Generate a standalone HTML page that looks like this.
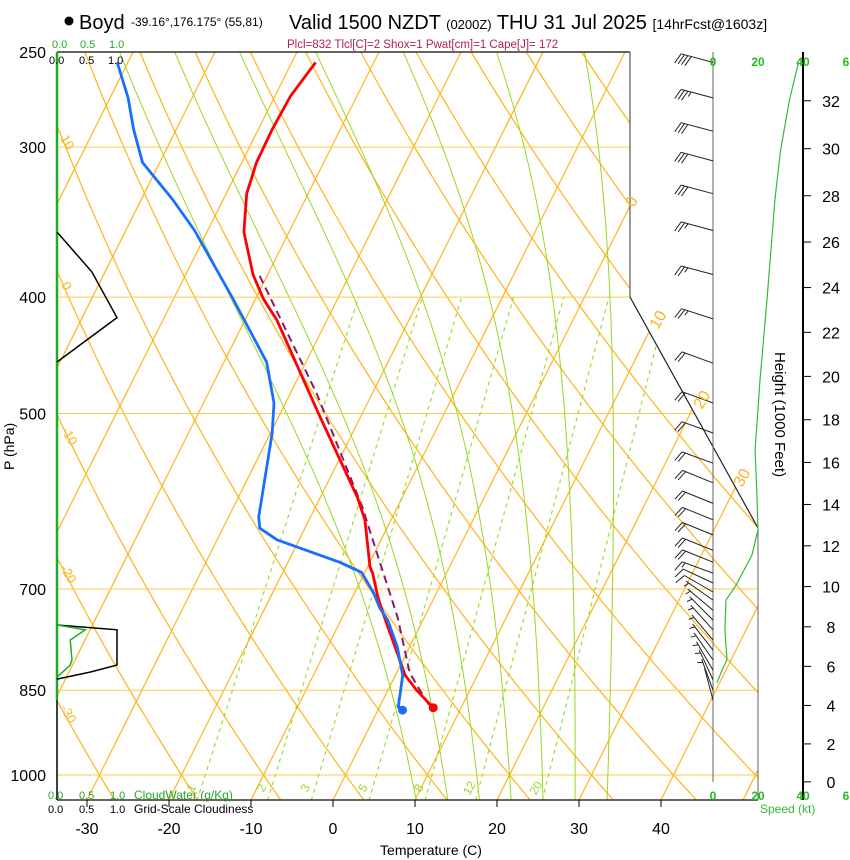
<!DOCTYPE html>
<html><head><meta charset="utf-8"><style>
body{margin:0;background:#fff;}
svg{display:block;font-family:"Liberation Sans",Arial,sans-serif;}
</style></head><body>
<svg id="chart" width="850" height="860" viewBox="0 0 850 860" xmlns="http://www.w3.org/2000/svg">
<defs><clipPath id="plotclip"><polygon points="57,52 630,52 630,297 758,528 758,800 57,800"/></clipPath></defs>
<rect width="850" height="860" fill="#fff"/>
<g>
<circle cx="69" cy="21" r="4.5" fill="#000"/>
<text x="79" y="29" font-size="20">Boyd</text>
<text x="131" y="26" font-size="12">-39.16°,176.175° (55,81)</text>
<text x="289" y="29" font-size="20">Valid 1500 NZDT <tspan font-size="13">(0200Z)</tspan> THU 31 Jul 2025 <tspan font-size="14">[14hrFcst@1603z]</tspan></text>
<text x="287" y="48" font-size="11.5" fill="#b0205a">Plcl=832 Tlcl[C]=2 Shox=1 Pwat[cm]=1 Cape[J]= 172</text>
</g>
<g id="grid" clip-path="url(#plotclip)"></g>
<g id="frame"></g>
<g id="series"></g>
<g id="labels"></g>
<g font-size="11">
<text x="52" y="48" fill="#22aa22">0.0</text><text x="80" y="48" fill="#22aa22">0.5</text><text x="109" y="48" fill="#22aa22">1.0</text>
<text x="49" y="64" fill="#000">0.0</text><text x="79" y="64" fill="#000">0.5</text><text x="108" y="64" fill="#000">1.0</text>
<text x="48" y="799" fill="#22aa22">0.0</text><text x="79" y="799" fill="#22aa22">0.5</text><text x="110" y="799" fill="#22aa22">1.0</text><text x="134" y="799" fill="#22aa22" font-size="12">CloudWater (g/Kg)</text>
<text x="48" y="813" fill="#000">0.0</text><text x="79" y="813" fill="#000">0.5</text><text x="110" y="813" fill="#000">1.0</text><text x="134" y="813" fill="#000" font-size="12">Grid-Scale Cloudiness</text>
<g font-weight="bold" fill="#22bb22" font-size="12" text-anchor="middle">
<text x="713" y="66">0</text><text x="758" y="66">20</text><text x="803" y="66">40</text><text x="846" y="66">6</text>
<text x="713" y="800">0</text><text x="758" y="800">20</text><text x="803" y="800">40</text><text x="846" y="800">6</text>
</g>
<text x="760" y="813" fill="#33bb33" font-size="12">Speed (kt)</text>
<text x="0" y="0" font-size="15" transform="translate(775,352) rotate(90)">Height (1000 Feet)</text>
<text x="0" y="0" font-size="14" transform="translate(14,470) rotate(-90)">P (hPa)</text>
<text x="431" y="855" font-size="14" text-anchor="middle">Temperature (C)</text>
<g fill="#ffb31a" font-size="16">
<text transform="translate(634,208) rotate(-60)">0</text>
<text transform="translate(658,330) rotate(-60)">10</text>
<text transform="translate(702,410) rotate(-60)">20</text>
<text transform="translate(742,488) rotate(-60)">30</text>
</g>
<g fill="#ffb31a" font-size="13">
<text transform="translate(60,138) rotate(60)">10</text>
<text transform="translate(61,285) rotate(60)">0</text>
<text transform="translate(61,430) rotate(60)">-10</text>
<text transform="translate(60,568) rotate(60)">-20</text>
<text transform="translate(60,708) rotate(60)">-30</text>
</g>
</g>
</svg>
<script>
const presT=[255,272,290,309,328,353,383,401,418,497,587,613,671,679,711,740,826,850,879];
const tempT=[-47.1,-48.1,-48.3,-48.2,-47.5,-45.5,-41.8,-39.1,-36.1,-25.7,-15.5,-13.2,-9.7,-9.0,-6.9,-4.8,1.2,3.5,6.6];
const presD=[255,273,290,309,332,352,401,453,490,519,610,623,637,665,678,705,726,743,782,826,878,883];
const dewD=[-71.3,-67.8,-65.2,-62.1,-56.1,-51.6,-42.8,-34.8,-31.4,-29.8,-26.3,-25.5,-22.7,-13.7,-10.4,-7.7,-6.0,-4.3,-1.5,0.9,2.3,3.0];
const presParcel=[384,481,598,666,740,822,850,878];
const tempParcel=[-40.9,-26.8,-14.3,-8.7,-3.2,1.6,3.9,6.2];
const windP=[255,273,291,308,328,352,383,417,454,490,519,550,571,594,613,631,650,665,679,692,704,715,729,743,757,772,787,802,818,833,850,866];
const windSpd=[38,35,32,30,28,26,25,24,22,21,19,19,19,20,20,20,19,18,16,12,9,7,6,5,5,6,6,6,5,4,3,2];
const windDir=[285,285,285,285,285,285,285,288,290,290,290,290,292,292,292,292,292,292,290,295,300,305,310,315,318,320,322,325,330,335,340,345];
const speedP=[255,274,302,332,365,402,469,536,590,625,656,695,715,757,802,818,838];
const speedV=[38,34,30,27.5,25.8,24,20.9,18.7,19.6,20,17.3,10.2,5.8,5.3,6.2,4,1.8];
const cloudP=[353,381,416,453,750,757,810,821,832];
const cloudFrac=[0,0.58,1,0,0,1,1,0.55,0];
const cwP=[750,757,772,802,810,829];
const cwVal=[0,0.47,0.22,0.25,0.22,0];
const tempTicks=[-30,-20,-10,0,10,20,30,40];
const presTicks=[250,300,400,500,700,850,1000];
const heightTicks=[0,2,4,6,8,10,12,14,16,18,20,22,24,26,28,30,32];
const mixRatios=[1,2,3,5,8,12,20];
const thetaW=[8,12,16,20,24,28,32];

const NS="http://www.w3.org/2000/svg";
function yOf(p){return 775+521.5*Math.log(p/1000);}
function xOf(T,p){return 333+8.2*T+0.5*(800-yOf(p));}
function xSpd(s){return 713+s*45/20;}
function xCloud(f){return 57+f*60;}
function yHt(kft){const h=kft*1000*0.3048;const p=1013.25*Math.pow(1-2.25577e-5*h,5.25588);return yOf(p);}
function mk(parent,tag,attrs){const e=document.createElementNS(NS,tag);for(const k in attrs)e.setAttribute(k,attrs[k]);document.getElementById(parent).appendChild(e);return e;}
function pts(a){return a.map(q=>q[0].toFixed(1)+","+q[1].toFixed(1)).join(" ");}

for(let T=-110;T<=50;T+=10){
  const e=mk("grid","line",{x1:xOf(T,1050),y1:yOf(1050),x2:xOf(T,240),y2:yOf(240),stroke:"#ffb31a","stroke-width":1.2});
  
  
}
for(let th=-40;th<=200;th+=10){
  const a=[];
  for(let p=1050;p>=240;p-=10){const T=(th+273.15)*Math.pow(p/1000,0.2857)-273.15;a.push([xOf(T,p),yOf(p)]);}
  const e=mk("grid","polyline",{points:pts(a),fill:"none",stroke:"#ffb31a","stroke-width":1.2});
  
  
}
presTicks.forEach(p=>{
  const e=mk("grid","line",{x1:57,y1:yOf(p),x2:760,y2:yOf(p),stroke:"#ffc94a","stroke-width":1});
  
  
});
function dTdlnp(T,p){const es=6.112*Math.exp(17.67*(T-273.15)/(T-29.65));const rs=0.622*es/(p-es);
  return (287*T+2.501e6*rs)/(1005+2.501e6*2.501e6*rs*0.622/(287*T*T));}
thetaW.forEach(tw=>{
  const up=[],dn=[];let T=tw+273.15,lp=Math.log(1000);
  while(lp>Math.log(240)){up.push([xOf(T-273.15,Math.exp(lp)),yOf(Math.exp(lp))]);const d=-0.005;T+=dTdlnp(T,Math.exp(lp))*d;lp+=d;}
  T=tw+273.15;lp=Math.log(1000);
  while(lp<Math.log(1052)){dn.unshift([xOf(T-273.15,Math.exp(lp)),yOf(Math.exp(lp))]);const d=0.005;T+=dTdlnp(T,Math.exp(lp))*d;lp+=d;}
  const e=mk("grid","polyline",{points:pts(dn.concat(up)),fill:"none",stroke:"#99d822","stroke-width":1});
  
  
});
function tdFromW(w,p){const e=w*p/(622+w);const a=Math.log(e/6.112);return 243.5*a/(17.67-a);}
mixRatios.forEach(w=>{
  const e=mk("grid","line",{x1:xOf(tdFromW(w,1050),1050),y1:yOf(1050),x2:xOf(tdFromW(w,400),400),y2:yOf(400),stroke:"#99d822","stroke-width":1.1,"stroke-dasharray":"4,4"});
  
  
  const lx=xOf(tdFromW(w,1040),1040)-4,ly=790;
  const t=mk("labels","text",{x:lx,y:ly,"font-size":12,fill:"#99d822",transform:"rotate(-60 "+lx+" "+ly+")","text-anchor":"middle"});
  t.textContent=w;
  
  
});

[[57,52,630,52,"#332",1.5],[57,800,758,800,"#332",1.5],[630,52,630,297,"#333",1],[630,297,758,528,"#222",1.2],[758,528,758,800,"#666",1],[713,52,713,782,"#666",1],[803,52,803,800,"#000",2],[57,52,57,800,"#000",1.5]].forEach(l=>{
  const e=mk("frame","line",{x1:l[0],y1:l[1],x2:l[2],y2:l[3],stroke:l[4],"stroke-width":l[5]});
  
  
});
{const e=mk("frame","line",{x1:57,y1:52,x2:57,y2:700,stroke:"#22aa22","stroke-width":2.5});

}
tempTicks.forEach(T=>{
  const x=333+8.2*T;
  const e=mk("frame","line",{x1:x,y1:800,x2:x,y2:807,stroke:"#000"});
  
  
  const t=mk("labels","text",{x:x,y:834,"font-size":16,"text-anchor":"middle"});
  t.textContent=T;
  
  
});
presTicks.forEach(p=>{
  const t=mk("labels","text",{x:46,y:yOf(p)+6,"font-size":16,"text-anchor":"end"});
  t.textContent=p;
  
  
});
heightTicks.forEach(h=>{
  const y=yHt(h);
  const e=mk("frame","line",{x1:803,y1:y,x2:811,y2:y,stroke:"#000"});
  
  
  const t=mk("labels","text",{x:831,y:y+6,"font-size":16,"text-anchor":"middle"});
  t.textContent=h;
  
  
});

{const a=cloudP.slice(0,4).map((p,i)=>[xCloud(cloudFrac[i]),yOf(p)]);
const e=mk("series","polyline",{points:pts(a),fill:"none",stroke:"#000","stroke-width":1.5});


const b=cloudP.slice(4).map((p,i)=>[xCloud(cloudFrac[i+4]),yOf(p)]);
const f=mk("series","polyline",{points:pts(b),fill:"none",stroke:"#000","stroke-width":1.5});


const c=cwP.map((p,i)=>[xCloud(cwVal[i]),yOf(p)]);
const g=mk("series","polyline",{points:pts(c),fill:"none",stroke:"#22aa22","stroke-width":1.5});

}

{const g=mk("series","polyline",{points:pts(presParcel.map((p,i)=>[xOf(tempParcel[i],p),yOf(p)])),fill:"none",stroke:"#8b1a6b","stroke-width":2,"stroke-dasharray":"8,5"});


const r=mk("series","polyline",{points:pts(presT.map((p,i)=>[xOf(tempT[i],p),yOf(p)])),fill:"none",stroke:"#ff0000","stroke-width":2.8,"stroke-linejoin":"round"});


const b=mk("series","polyline",{points:pts(presD.map((p,i)=>[xOf(dewD[i],p),yOf(p)])),fill:"none",stroke:"#1a6eff","stroke-width":2.8,"stroke-linejoin":"round"});


const n=presT.length-1;
const rd=mk("series","circle",{cx:xOf(tempT[n],presT[n]),cy:yOf(presT[n]),r:4.5,fill:"#ff0000"});


const m=presD.length-1;
const bd=mk("series","circle",{cx:xOf(dewD[m],presD[m]),cy:yOf(presD[m]),r:4.5,fill:"#1a6eff"});

}

{const s=mk("series","polyline",{points:pts(speedP.map((p,i)=>[xSpd(speedV[i]),yOf(p)])),fill:"none",stroke:"#33bb33","stroke-width":1.2});

}

windP.forEach((p,i)=>{
  const y=yOf(p),x=713,L=33,d=windDir[i]*Math.PI/180;
  const ux=Math.sin(d),uy=-Math.cos(d);
  const tx=x+ux*L,ty=y+uy*L;
  let path="M"+x+","+y.toFixed(1)+"L"+tx.toFixed(1)+","+ty.toFixed(1);
  const px=-uy,py=ux;
  const fx=(0.95*(-px)+0.35*ux),fy=(0.95*(-py)+0.35*uy);
  let s=Math.round(windSpd[i]/5)*5,pos=0;
  while(s>=10){const bx=tx-ux*pos,by=ty-uy*pos;path+="M"+bx.toFixed(1)+","+by.toFixed(1)+"l"+(fx*11).toFixed(1)+","+(fy*11).toFixed(1);pos+=3.5;s-=10;}
  if(s>=5){if(pos===0)pos=3.5;const bx=tx-ux*pos,by=ty-uy*pos;path+="M"+bx.toFixed(1)+","+by.toFixed(1)+"l"+(fx*5.5).toFixed(1)+","+(fy*5.5).toFixed(1);}
  const e=mk("series","path",{d:path,fill:"none",stroke:"#222","stroke-width":1});
  
  
});
</script>
</body></html>
